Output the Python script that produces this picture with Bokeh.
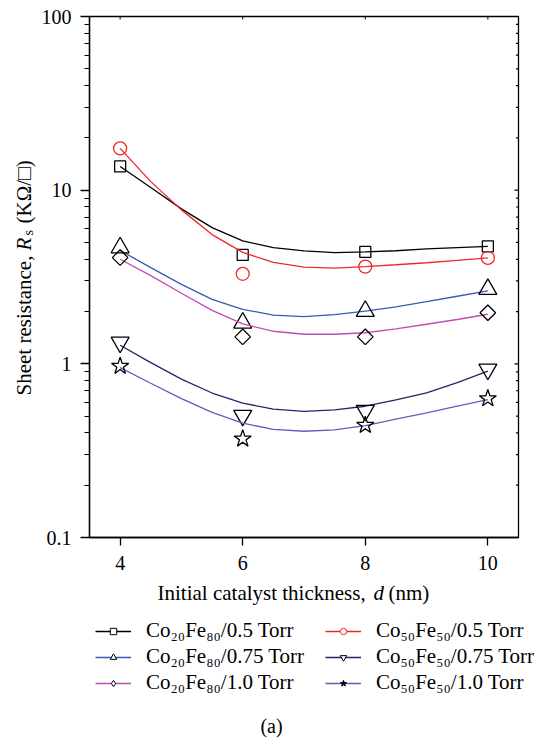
import math
from bokeh.plotting import figure
from bokeh.layouts import column, row
from bokeh.models import Range1d, FixedTicker, Legend, LegendItem, Label
from bokeh.embed import file_html
from bokeh.resources import INLINE

FONT = "Liberation Serif"

# ---- measured data points ----
d_nm = [4, 6, 8, 10]
co20_05 = [13.7, 4.24, 4.41, 4.75]
co50_05 = [17.4, 3.30, 3.63, 4.07]
co20_075 = [4.67, 1.72, 2.01, 2.69]
co50_075 = [1.33, 0.504, 0.538, 0.929]
co20_10 = [4.09, 1.43, 1.43, 1.97]
co50_10 = [0.97, 0.37, 0.443, 0.631]

# ---- fitted curves ----
fit_d = [4, 4.5, 5, 5.5, 6, 6.5, 7, 7.5, 8, 8.5, 9, 9.5, 10]
fit_co20_05 = [13.7, 10.35, 7.8, 6.09, 5.1, 4.67, 4.47, 4.37, 4.41, 4.48, 4.59, 4.67, 4.75]
fit_co50_05 = [17.4, 11.2, 7.7, 5.55, 4.38, 3.84, 3.6, 3.56, 3.63, 3.72, 3.82, 3.94, 4.07]
fit_co20_075 = [4.5, 3.58, 2.87, 2.35, 2.06, 1.91, 1.87, 1.92, 2.01, 2.13, 2.28, 2.45, 2.63]
fit_co50_075 = [1.28, 1.016, 0.817, 0.679, 0.594, 0.548, 0.533, 0.543, 0.570, 0.62, 0.68, 0.78, 0.908]
fit_co20_10 = [4.0, 3.22, 2.55, 2.03, 1.70, 1.54, 1.48, 1.48, 1.51, 1.59, 1.69, 1.80, 1.93]
fit_co50_10 = [0.95, 0.773, 0.631, 0.525, 0.455, 0.419, 0.409, 0.417, 0.441, 0.48, 0.522, 0.57, 0.623]

labels = ["Co₂₀Fe₈₀/0.5 Torr", "Co₂₀Fe₈₀/0.75 Torr", "Co₂₀Fe₈₀/1.0 Torr",
          "Co₅₀Fe₅₀/0.5 Torr", "Co₅₀Fe₅₀/0.75 Torr", "Co₅₀Fe₅₀/1.0 Torr"]

y_major = [0.1, 1, 10, 100]
y_major_labels = ["0.1", "1", "10", "100"]
x_major = [4, 6, 8, 10]

# values, fit, line colour, marker, size, angle, marker colour,
# legend marker, legend fill
series = [
    (co20_05, fit_co20_05, "#000000", "square", 11, 0.0, "#000000", "square", "white"),
    (co20_075, fit_co20_075, "#3a58b4", "triangle", 18, 0.0, "#000000", "triangle", "white"),
    (co20_10, fit_co20_10, "#c04cb4", "square", 11, math.pi / 4, "#000000", "diamond", "white"),
    (co50_05, fit_co50_05, "#f02828", "circle", 13, 0.0, "#f02828", "circle", "white"),
    (co50_075, fit_co50_075, "#24246e", "inverted_triangle", 18, 0.0, "#000000", "inverted_triangle", "white"),
    (co50_10, fit_co50_10, "#7454b8", "star", 18, 0.0, "#000000", "star", "black"),
]

TOTAL_W, TOTAL_H = 537, 739
YL_W = 38          # strip holding the rotated y label
MAIN_H = 580       # main plot height
BOT_H = TOTAL_H - MAIN_H
MAIN_W = TOTAL_W - YL_W
BL, BR, BT = 86 - YL_W, 19, 16
FRAME_BOTTOM = 537
BB = MAIN_H - FRAME_BOTTOM
X0, X1 = 3.5, 10.5
Y0, Y1 = 0.1, 100


def blank(w, h):
    f = figure(width=w, height=h, output_backend="svg", toolbar_location=None,
               x_axis_type=None, y_axis_type=None, x_range=Range1d(0, 1),
               y_range=Range1d(0, 1), min_border=0)
    f.outline_line_color = None
    f.xgrid.visible = False
    f.ygrid.visible = False
    f.background_fill_color = "white"
    f.border_fill_color = "white"
    return f


def lab(f, text, x, y, size="21px", style="normal", angle=0.0, align="left"):
    f.add_layout(Label(text=text, x=x, y=y, x_units="screen", y_units="screen",
                       angle=angle, text_align=align, text_baseline="middle",
                       text_font=FONT, text_font_size=size, text_font_style=style,
                       text_color="black"))


# ---------------- main plot ----------------
p = figure(width=MAIN_W, height=MAIN_H, output_backend="svg", toolbar_location=None,
           y_axis_type="log", x_range=Range1d(X0, X1), y_range=Range1d(Y0, Y1),
           min_border_left=BL, min_border_right=BR, min_border_top=BT,
           min_border_bottom=BB)
p.xgrid.visible = False
p.ygrid.visible = False
p.outline_line_color = "black"
p.outline_line_width = 1.3
p.background_fill_color = "white"
p.border_fill_color = "white"

minor = [k * dec for dec in [0.1, 1, 10] for k in range(2, 10)]
yt = FixedTicker(ticks=y_major, minor_ticks=minor)
xt = FixedTicker(ticks=x_major)

ya = p.yaxis[0]
ya.ticker = yt
ya.major_label_overrides = {v: s for v, s in zip(y_major, y_major_labels)}
ya.major_tick_out = 9
ya.major_tick_in = 0
ya.minor_tick_out = 5
ya.minor_tick_in = 0
ya.major_label_standoff = 9
ya.major_label_text_font = FONT
ya.major_label_text_font_size = "20px"
ya.major_label_text_color = "black"
ya.axis_line_width = 1.3
ya.major_tick_line_width = 1.3
ya.minor_tick_line_width = 1.2

xa = p.xaxis[0]
xa.ticker = xt
xa.major_tick_out = 8
xa.major_tick_in = 0
xa.minor_tick_out = 0
xa.minor_tick_in = 0
xa.major_label_standoff = 10
xa.major_label_text_font = FONT
xa.major_label_text_font_size = "20px"
xa.major_label_text_color = "black"
xa.axis_line_width = 1.3
xa.major_tick_line_width = 1.3

# right-side and top inward ticks (drawn through the data scales)
fw = MAIN_W - BL - BR
fh = MAIN_H - BT - BB
dx_minor = 2.5 * (X1 - X0) / fw
dx_major = 4.0 * (X1 - X0) / fw
dec_px = fh / math.log10(Y1 / Y0)
p.segment(x0=[X1] * len(minor), x1=[X1 - dx_minor] * len(minor), y0=minor, y1=minor,
          line_color="black", line_width=1.2)
p.segment(x0=[X1] * len(y_major), x1=[X1 - dx_major] * len(y_major), y0=y_major,
          y1=y_major, line_color="black", line_width=1.2)
top_f = 10 ** (-3.0 / dec_px)
p.segment(x0=x_major, x1=x_major, y0=[Y1] * len(x_major), y1=[Y1 * top_f] * len(x_major),
          line_color="black", line_width=1.0)

for (pts, fit, col, mk, sz, ang, mcol, lmk, lfill) in series:
    p.line(fit_d, fit, line_color=col, line_width=1.3)
    p.scatter(d_nm, pts, marker=mk, size=sz, angle=ang, line_color=mcol,
              line_width=1.3, fill_color=None)

# ---------------- y label strip (frame aligned with the main frame) ----------------
yl = blank(YL_W, MAIN_H)


def yfb(y_ref):
    return FRAME_BOTTOM - y_ref


lab(yl, "Sheet resistance,", 23, yfb(395), angle=math.pi / 2)
lab(yl, "R", 23, yfb(250), style="italic", angle=math.pi / 2)
lab(yl, "s", 28, yfb(235), size="14px", angle=math.pi / 2)
lab(yl, "(KΩ/□)", 23, yfb(223), angle=math.pi / 2)

# ---------------- bottom strip: x label, legend, caption ----------------
bt = blank(TOTAL_W, BOT_H)


def ytop(y_ref):
    return TOTAL_H - y_ref


lab(bt, "Initial catalyst thickness,", 157, ytop(592))
lab(bt, "d", 373, ytop(592), style="italic")
lab(bt, "(nm)", 388, ytop(592))
lab(bt, "(a)", 271, ytop(725), size="20px", align="center")

nan = float("nan")
items = []
for (pts, fit, col, mk, sz, ang, mcol, lmk, lfill), lb in zip(series, labels):
    ln = bt.line([nan], [nan], line_color=col, line_width=1.3)
    mr = bt.scatter([nan], [nan], marker=lmk, size=7, line_color=mcol,
                    line_width=1.0, fill_color=lfill)
    items.append(LegendItem(label=lb, renderers=[ln, mr]))


def make_legend(its, vx):
    return Legend(items=its, location=(vx, ytop(695)), orientation="vertical",
                  padding=0, margin=0, spacing=1, label_height=23,
                  glyph_height=16, glyph_width=36, label_standoff=15,
                  border_line_color=None, background_fill_color=None,
                  label_text_font=FONT, label_text_font_size="21px",
                  label_text_color="black")


bt.add_layout(make_legend(items[:3], 95))
bt.add_layout(make_legend(items[3:], 325))

layout = column(row(yl, p, spacing=0), bt, spacing=0)
open("out.html", "w").write(file_html(layout, INLINE))
